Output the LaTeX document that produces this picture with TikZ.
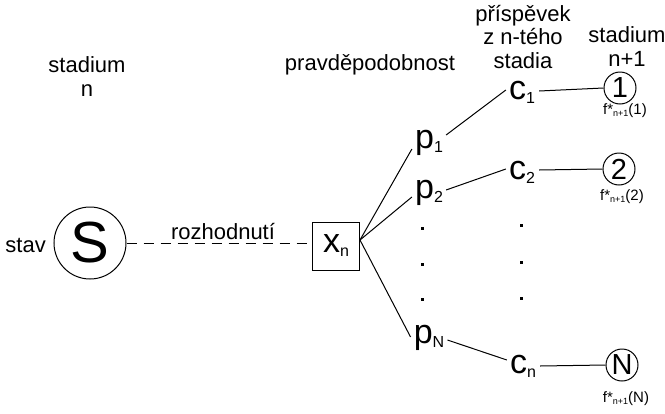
\documentclass[tikz,border=0pt]{standalone}
\usepackage{fontspec}
\setmainfont{Liberation Sans}
\newcommand\fsz[1]{\fontsize{#1}{#1}\selectfont}
\newcommand\lowsub[1]{\raisebox{-4pt}{\fsz{16}#1}}
\begin{document}
\begin{tikzpicture}[x=1pt,y=-1pt,
  lbl/.style={font=\fontsize{22}{24}\selectfont, align=center, inner sep=0},
  var/.style={inner sep=0, anchor=center},
  stcirc/.style={circle, draw, line width=1pt, minimum size=32pt, inner sep=0, font=\fsz{29}},
  fval/.style={inner sep=0, font=\fsz{15}},
  link/.style={line width=1pt},
  vdot/.style={rectangle, fill=black, inner sep=0, minimum size=3pt}]
\useasboundingbox (0,0) rectangle (665,413);

% column headings
\node[lbl] (hS) at (87,77) {stadium\\n};
\node[lbl] (hP) at (370,65) {pravděpodobnost};
\node[lbl, font=\fontsize{22}{23.5}\selectfont] (hC) at (523,37) {příspěvek\\z n-tého\\stadia};
\node[lbl] (hN) at (627,47) {stadium\\n+1};

% current state and decision
\node[circle, draw, line width=1pt, minimum size=72pt, inner sep=0, font=\fsz{58}] (S) at (90,243) {S};
\node[lbl, anchor=east] (stav) at (46,245) {stav};
\node[draw, line width=1pt, minimum width=47pt, minimum height=48pt, inner sep=0] (x) at (336,246) {\fsz{34}x\lowsub{n}};
\draw[link, dash pattern=on 10pt off 7pt] (S.east) -- (x.west |- S.east);
\node[lbl] (roz) at (223,232) {rozhodnutí};

% probabilities
\node[var] (p1) at (429,143) {\fsz{34}p\lowsub{1}};
\node[var] (p2) at (429,193) {\fsz{34}p\lowsub{2}};
\node[var] (pN) at (429,338) {\fsz{34}p\lowsub{N}};
\node[vdot] (pd1) at (422,228) {};
\node[vdot] (pd2) at (422,264) {};
\node[vdot] (pd3) at (422,299) {};

% contributions
\node[var] (c1) at (522,92) {\fsz{34}c\lowsub{1}};
\node[var] (c2) at (522,172) {\fsz{34}c\lowsub{2}};
\node[var] (cn) at (523,366) {\fsz{34}c\lowsub{n}};
\node[vdot] (cd1) at (521,225) {};
\node[vdot] (cd2) at (521,262) {};
\node[vdot] (cd3) at (521,298) {};

% next stage states
\node[stcirc] (n1) at (620,88) {1};
\node[stcirc] (n2) at (619,169) {2};
\node[stcirc] (nN) at (622,365) {N};
\node[fval] (f1) at (625,111) {f*\raisebox{-2pt}{\fsz{9}n+1}(1)};
\node[fval] (f2) at (622,197) {f*\raisebox{-2pt}{\fsz{9}n+1}(2)};
\node[fval] (fN) at (626,399) {f*\raisebox{-2pt}{\fsz{9}n+1}(N)};

% branches
\draw[link] ([yshift=6pt]x.east) -- ([shift={(-3,6)}]p1.west);
\draw[link] ([yshift=6pt]x.east) -- ([shift={(-3,4)}]p2.west);
\draw[link] ([yshift=6pt]x.east) -- ([shift={(-3,-1)}]pN.west);
\draw[link] ([shift={(3,-8)}]p1.east) -- ([shift={(-3,-2)}]c1.west);
\draw[link] ([shift={(3,-3)}]p2.east) -- ([shift={(-3,-3)}]c2.west);
\draw[link] ([shift={(3,2)}]pN.east) -- ([shift={(-3,-6)}]cn.west);
\draw[link] ([shift={(4,-1)}]c1.east) -- (n1.west);
\draw[link] ([shift={(4,-2)}]c2.east) -- (n2.west);
\draw[link] ([shift={(4,0)}]cn.east) -- (nN.west);
\end{tikzpicture}
\end{document}
